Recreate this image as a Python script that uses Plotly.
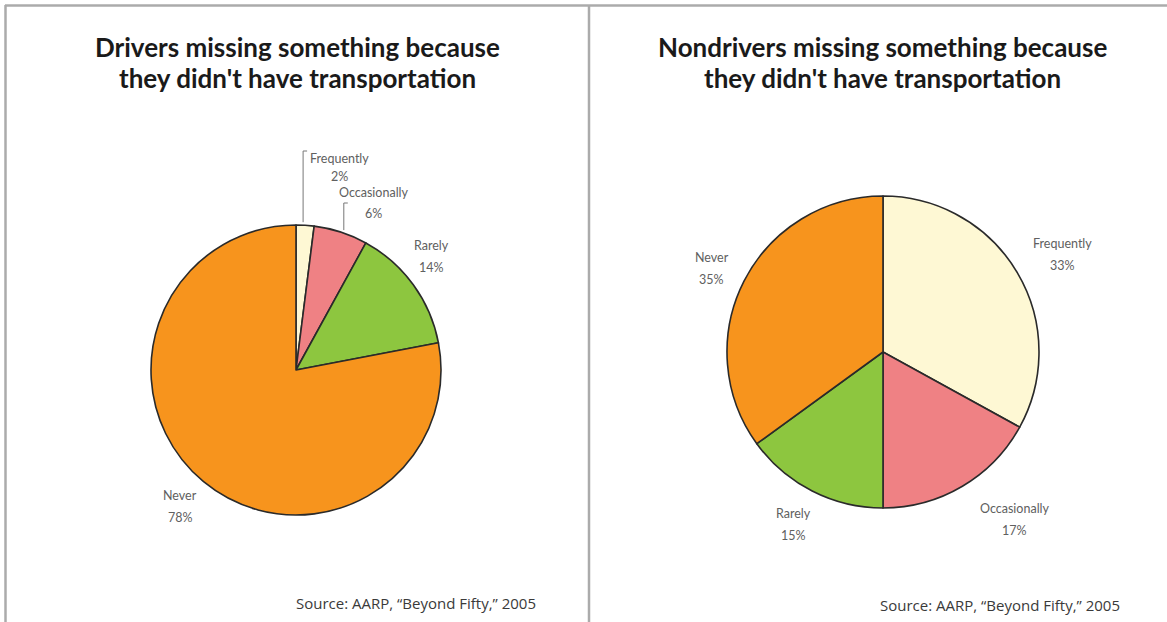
import math
import plotly.graph_objects as go

W, H = 1167, 622

categories = ["Frequently", "Occasionally", "Rarely", "Never"]
drivers = [2, 6, 14, 78]
nondrivers = [33, 17, 15, 35]
title_lines = [["Drivers missing something because", "they didn't have transportation"],
               ["Nondrivers missing something because", "they didn't have transportation"]]
source = "Source: AARP, \u201cBeyond Fifty,\u201d 2005"

colors = ["#FEF8D4", "#EF8184", "#8DC63F", "#F7941D"]

# layout: pixel geometry of each pie, and label placement (radius factor, angle nudge deg)
pies = [
    dict(values=drivers, cx=296, cy=370, r=145,
         lab=[None, None, (1.22, -3.8), (1.234, 0.8)],
         leader=[dict(top=151, name=158, pct=177, dx=36, xoff=-2),
                 dict(top=203, name=192, pct=213, dx=30, xoff=3), None, None],
         title_x=297, src_x=416, src_y=603),
    dict(values=nondrivers, cx=883, cy=352, r=156,
         lab=[(1.31, 2.1), (1.365, -7.7), (1.245, 0.4), (1.22, -1.0)],
         leader=[None] * 4,
         title_x=882, src_x=1000, src_y=605),
]

def px(x):
    return x / W

def py(y):
    return 1 - y / H

label_font = dict(family="Lato", size=12.5, color="#606060")

fig = go.Figure()
annotations = []
shapes = []

def add_text(x, y, text, font):
    annotations.append(dict(x=px(x), y=py(y), xref="paper", yref="paper",
                            text=text, showarrow=False, xanchor="center", yanchor="middle",
                            font=font))

for i, p in enumerate(pies):
    cx, cy, r = p["cx"], p["cy"], p["r"]
    fig.add_trace(go.Pie(
        labels=categories, values=p["values"], sort=False, direction="clockwise",
        rotation=0, textinfo="none", hoverinfo="label+percent",
        marker=dict(colors=colors, line=dict(color="#2a2a2a", width=1.6)),
        domain=dict(x=[px(cx - r), px(cx + r)], y=[py(cy + r), py(cy - r)]),
        showlegend=False,
    ))
    total = sum(p["values"])
    cum = 0
    for j, (cat, v) in enumerate(zip(categories, p["values"])):
        mid = (cum + v / 2) / total * 2 * math.pi
        cum += v
        ld = p["leader"][j]
        if ld is not None:
            lx = cx + r * math.sin(mid) + ld["xoff"]
            edge_y = cy - math.sqrt(max(r * r - (lx - cx) ** 2, 0))
            top = ld["top"]
            shapes.append(dict(type="path", xref="paper", yref="paper",
                               path=f"M {px(lx)},{py(edge_y - 3)} L {px(lx)},{py(top)} L {px(lx + 4)},{py(top)}",
                               line=dict(color="#777", width=1)))
            tx = lx + ld["dx"]
            add_text(tx, ld["name"], cat, label_font)
            add_text(tx, ld["pct"], f"{v}%", label_font)
        else:
            k, nudge = p["lab"][j]
            a = mid + math.radians(nudge)
            tx = cx + k * r * math.sin(a)
            ty = cy - k * r * math.cos(a)
            add_text(tx, ty - 11, cat, label_font)
            add_text(tx, ty + 11, f"{v}%", label_font)
    for line, ly in zip(title_lines[i], [47, 78]):
        add_text(p["title_x"], ly, f"<b>{line}</b>",
                 dict(family="Lato", size=26, color="#1a1a1a"))
    add_text(p["src_x"], p["src_y"], source, dict(family="Open Sans", size=15, color="#3a3a3a"))

# frame lines
for x0, y0, x1, y1 in [(5, 5.5, W, 5.5), (5.5, 5, 5.5, H), (589, 5, 589, H)]:
    shapes.append(dict(type="line", xref="paper", yref="paper",
                       x0=px(x0), y0=py(y0), x1=px(x1), y1=py(y1),
                       line=dict(color="#ababab", width=2.5)))

fig.update_layout(
    width=W, height=H, margin=dict(l=0, r=0, t=0, b=0),
    paper_bgcolor="white", plot_bgcolor="white",
    annotations=annotations, shapes=shapes,
)
fig.write_html("out.html")
